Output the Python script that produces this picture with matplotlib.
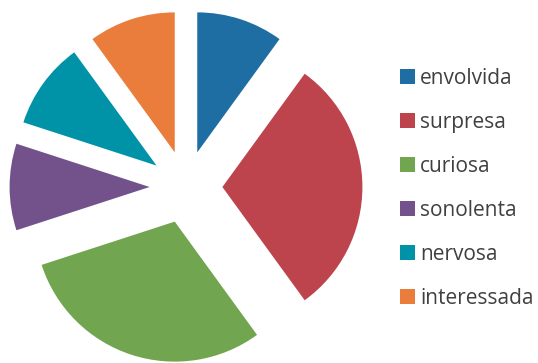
import matplotlib.pyplot as plt
from matplotlib.patches import Patch

labels = ['envolvida', 'surpresa', 'curiosa', 'sonolenta', 'nervosa', 'interessada']
values = [1, 3, 3, 1, 1, 1]
colors = ['#1f6ea3', '#bd434c', '#72a550', '#73528c', '#0093a8', '#ea7c3c']
explode = [0.26] * len(values)

plt.rcParams['font.family'] = ['Open Sans', 'DejaVu Sans']

fig = plt.figure(figsize=(5.38, 3.63), dpi=100)
# square axes, 140 px per unit
ax = fig.add_axes([4 / 538, -6 / 363, 364 / 538, 364 / 363])
ax.pie(values, colors=colors, explode=explode, startangle=90,
       counterclock=False, radius=1.0)
ax.set_xlim(-1.3, 1.3)
ax.set_ylim(-1.3, 1.3)
ax.set_aspect('equal')
ax.axis('off')

handles = [Patch(facecolor=c, edgecolor='none') for c in colors]
leg = fig.legend(handles, labels, loc='center left',
                 bbox_to_anchor=(400 / 538, 1 - 188.5 / 363),
                 frameon=False, fontsize=15, labelspacing=1.1,
                 handlelength=0.72, handleheight=0.72, handletextpad=0.25,
                 borderaxespad=0, borderpad=0)
for t in leg.get_texts():
    t.set_color('#404040')

fig.savefig('out.png', dpi=100)
